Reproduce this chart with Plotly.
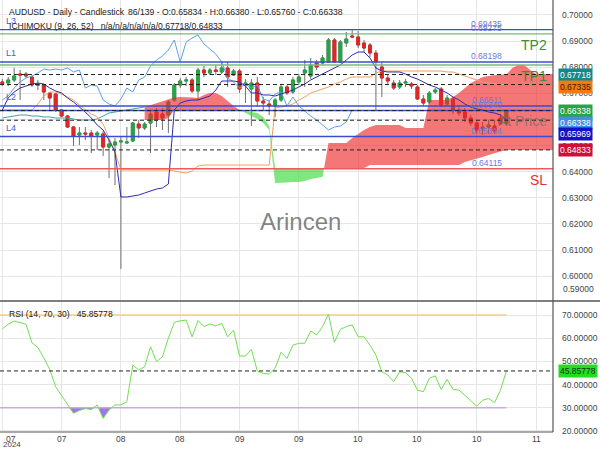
import numpy as np
import plotly.graph_objects as go

# ---------------- data ----------------
bars = list(range(86))
x_tick_idx = [0, 10, 20, 30, 40, 50, 60, 70, 80, 90]
x_tick_txt = ["07", "07", "08", "08", "09", "09", "10", "10", "10", "11"]
year_label = "2024"

opens = [0.67432, 0.67394, 0.67509, 0.67738, 0.67738, 0.67623, 0.67355, 0.67317, 0.67011, 0.66973,
         0.66361, 0.66131, 0.65710, 0.65404, 0.65480, 0.65480, 0.65404, 0.65442, 0.64945, 0.65021,
         0.65136, 0.65098, 0.65174, 0.65825, 0.65672, 0.65863, 0.66284, 0.66207, 0.66169, 0.66743,
         0.67317, 0.67470, 0.67509, 0.67088, 0.67891, 0.67776, 0.67891, 0.67815, 0.67968, 0.67700,
         0.67853, 0.67317, 0.67164, 0.67394, 0.66705, 0.66590, 0.66514, 0.66743, 0.67241, 0.67049,
         0.67432, 0.67776, 0.67662, 0.68159, 0.68159, 0.68197, 0.69040, 0.68197, 0.68925, 0.69193,
         0.69154, 0.68925, 0.68848, 0.68542, 0.68006, 0.67585, 0.67394, 0.67241, 0.67394, 0.67355,
         0.67241, 0.66781, 0.66667, 0.67049, 0.67164, 0.66590, 0.66781, 0.66361, 0.66284, 0.66054,
         0.65863, 0.65633, 0.65710, 0.65748, 0.66054, 0.65834]
highs = [0.67547, 0.67623, 0.67968, 0.67891, 0.67815, 0.67662, 0.67509, 0.67355, 0.67049, 0.67011,
         0.66399, 0.66169, 0.65748, 0.65710, 0.65710, 0.65595, 0.65557, 0.65557, 0.65212, 0.65289,
         0.65327, 0.65710, 0.65901, 0.65978, 0.65901, 0.66322, 0.66437, 0.66437, 0.66743, 0.67394,
         0.67585, 0.67623, 0.67585, 0.67968, 0.68044, 0.67968, 0.68083, 0.68197, 0.68197, 0.67930,
         0.67930, 0.67547, 0.67547, 0.67623, 0.66858, 0.66743, 0.66820, 0.67317, 0.67317, 0.67623,
         0.67738, 0.68274, 0.68351, 0.68274, 0.68465, 0.69116, 0.69116, 0.69040, 0.69346, 0.69430,
         0.69384, 0.69040, 0.68925, 0.68657, 0.68197, 0.67700, 0.67509, 0.67509, 0.67547, 0.67432,
         0.67317, 0.66935, 0.67088, 0.67202, 0.67241, 0.66935, 0.66858, 0.66552, 0.66437, 0.66169,
         0.65978, 0.65901, 0.65978, 0.65978, 0.66207, 0.66380]
lows = [0.67279, 0.67279, 0.67432, 0.66743, 0.67585, 0.67241, 0.67126, 0.66743, 0.66361, 0.66284,
        0.66093, 0.65672, 0.64983, 0.65021, 0.65212, 0.64715, 0.64830, 0.64600, 0.63758, 0.63490,
        0.60275, 0.65059, 0.65136, 0.65289, 0.65595, 0.64715, 0.65710, 0.65595, 0.65480, 0.66667,
        0.67202, 0.67279, 0.67011, 0.66743, 0.67623, 0.67700, 0.67700, 0.67738, 0.67241, 0.67662,
        0.67011, 0.66628, 0.65748, 0.66475, 0.66361, 0.66169, 0.66093, 0.66667, 0.66935, 0.66973,
        0.67317, 0.67241, 0.67547, 0.67891, 0.68083, 0.68159, 0.68159, 0.68159, 0.68772, 0.69116,
        0.68733, 0.68580, 0.68389, 0.66361, 0.66858, 0.67317, 0.67126, 0.67164, 0.67241, 0.67164,
        0.66743, 0.66514, 0.66590, 0.66973, 0.66475, 0.66514, 0.66207, 0.66131, 0.65901, 0.65748,
        0.65442, 0.65404, 0.65442, 0.65442, 0.65787, 0.65760]
closes = [0.67375, 0.67509, 0.67662, 0.67700, 0.67662, 0.67317, 0.67317, 0.67049, 0.66820, 0.66361,
          0.66131, 0.65710, 0.65366, 0.65480, 0.65442, 0.65366, 0.65480, 0.64945, 0.65059, 0.65136,
          0.65174, 0.65136, 0.65863, 0.65672, 0.65825, 0.66207, 0.65978, 0.66054, 0.66667, 0.67317,
          0.67470, 0.67509, 0.67088, 0.67891, 0.67776, 0.67891, 0.67834, 0.67968, 0.67623, 0.67853,
          0.67164, 0.67394, 0.67394, 0.66705, 0.66628, 0.66514, 0.66743, 0.67241, 0.67011, 0.67509,
          0.67623, 0.67891, 0.68083, 0.68006, 0.68351, 0.69040, 0.68197, 0.68963, 0.69078, 0.69154,
          0.68848, 0.68733, 0.68542, 0.68197, 0.67585, 0.67470, 0.67202, 0.67394, 0.67432, 0.67279,
          0.66781, 0.66628, 0.67011, 0.67126, 0.66552, 0.66820, 0.66361, 0.66246, 0.66054, 0.65863,
          0.65595, 0.65710, 0.65787, 0.65557, 0.65834, 0.66338]

tenkan = [0.66361, 0.66820, 0.67049, 0.67202, 0.67279, 0.67355, 0.67394, 0.67355, 0.67202, 0.67088,
          0.67011, 0.66820, 0.66667, 0.66475, 0.66284, 0.66054, 0.65787, 0.65595, 0.65212, 0.64753,
          0.63031, 0.63031, 0.63069, 0.63107, 0.63184, 0.63260, 0.63337, 0.63375, 0.63528, 0.66361,
          0.66628, 0.66705, 0.66743, 0.66743, 0.66820, 0.66896, 0.67126, 0.67470, 0.67470, 0.67470,
          0.67432, 0.67279, 0.67011, 0.67011, 0.66935, 0.66935, 0.66896, 0.66973, 0.67049, 0.67126,
          0.67241, 0.67355, 0.67509, 0.67623, 0.67738, 0.67853, 0.67968, 0.68083, 0.68274, 0.68465,
          0.68580, 0.68580, 0.68351, 0.67968, 0.67853, 0.67815, 0.67815, 0.67815, 0.67738, 0.67623,
          0.67547, 0.67432, 0.67317, 0.67241, 0.67126, 0.67011, 0.66858, 0.66743, 0.66590, 0.66475,
          0.66399, 0.66361, 0.66284, 0.66246, 0.66169, 0.65969]
kijun = [0.66361, 0.66361, 0.66361, 0.66361, 0.66361, 0.66361, 0.66590, 0.66896, 0.67049, 0.67049,
         0.66973, 0.66858, 0.66743, 0.66552, 0.66361, 0.66207, 0.66093, 0.65825, 0.65289, 0.64753,
         0.64064, 0.64064, 0.64064, 0.64064, 0.64064, 0.64064, 0.64064, 0.64064, 0.64064, 0.64026,
         0.63988, 0.63949, 0.64026, 0.64217, 0.64255, 0.64255, 0.64255, 0.64255, 0.64255, 0.64255,
         0.64255, 0.64255, 0.64255, 0.64255, 0.64255, 0.64255, 0.66437, 0.66475, 0.66514, 0.66590,
         0.66743, 0.66858, 0.67011, 0.67088, 0.67164, 0.67241, 0.67355, 0.67432, 0.67547, 0.67623,
         0.67623, 0.67623, 0.67623, 0.67776, 0.67853, 0.67853, 0.67853, 0.67853, 0.67853, 0.67853,
         0.67853, 0.67853, 0.67853, 0.67853, 0.67853, 0.67815, 0.67815, 0.67738, 0.67662, 0.67585,
         0.67509, 0.67432, 0.67394, 0.67355, 0.67336, 0.67335]
chikou = [0.66743, 0.66896, 0.67202, 0.67432, 0.67585, 0.67662, 0.67776, 0.67930, 0.67891, 0.67930,
          0.67891, 0.67968, 0.67815, 0.67891, 0.67202, 0.67317, 0.67279, 0.66743, 0.66590, 0.66514,
          0.66781, 0.67202, 0.67049, 0.67509, 0.67623, 0.68044, 0.68274, 0.68427, 0.68657, 0.69040,
          0.68197, 0.68963, 0.69116, 0.69231, 0.68886, 0.68695, 0.68504, 0.68197, 0.67585, 0.67432,
          0.67202, 0.67355, 0.67202, 0.67317, 0.66781, 0.66705, 0.66973, 0.67049, 0.66514, 0.66858,
          0.66514, 0.66322, 0.66131, 0.65978, 0.65787, 0.65595, 0.65710, 0.65748, 0.65901, 0.66361]

cloud_idx_a = list(range(94))
senkou_a = [0.66054, 0.66093, 0.66131, 0.66169, 0.66169, 0.66131, 0.66131, 0.66093, 0.66093, 0.66054,
            0.66054, 0.66054, 0.66016, 0.65978, 0.65978, 0.65978, 0.66016, 0.66131, 0.66246, 0.66284,
            0.66322, 0.66361, 0.66399, 0.66437, 0.66475, 0.66552, 0.66628, 0.66705, 0.66781, 0.66839,
            0.66858, 0.66858, 0.66839, 0.66820, 0.66935, 0.67011, 0.67011, 0.66896, 0.66705, 0.66514,
            0.66361, 0.66246, 0.66131, 0.66016, 0.65863, 0.65595, 0.63567, 0.63567, 0.63586, 0.63605,
            0.63605, 0.63643, 0.63720, 0.63758, 0.63796, 0.65098, 0.65098, 0.65098, 0.65098, 0.65289,
            0.65442, 0.65595, 0.65710, 0.65787, 0.65787, 0.65787, 0.65787, 0.65787, 0.65672, 0.65672,
            0.65672, 0.65672, 0.66743, 0.66743, 0.66743, 0.66743, 0.66858, 0.67011, 0.67202, 0.67394,
            0.67509, 0.67623, 0.67662, 0.67700, 0.67718, 0.67718, 0.67968, 0.68083, 0.68083, 0.67891,
            0.67738, 0.67738, 0.67738, 0.67738]
cloud_idx_b = list(range(24, 94))
senkou_b = [0.65978, 0.65978, 0.65978, 0.65978, 0.66054,
            0.66361, 0.66361, 0.66361, 0.66361, 0.66361, 0.66361, 0.66361, 0.66361, 0.66361, 0.66361, 0.66361,
            0.66342, 0.66322, 0.66284, 0.66246, 0.66093, 0.65748,
            0.64141, 0.64141, 0.64141, 0.64141, 0.64141, 0.64141, 0.64141, 0.64141,
            0.64141, 0.64141, 0.64141, 0.64141, 0.64141, 0.64141, 0.64141, 0.64141,
            0.64255, 0.64255, 0.64255, 0.64255, 0.64255, 0.64255, 0.64255, 0.64255,
            0.64255, 0.64255, 0.64255, 0.64255, 0.64255, 0.64255, 0.64255, 0.64255,
            0.64370, 0.64447, 0.64504, 0.64562, 0.64638, 0.64715, 0.64772, 0.64833,
            0.64833, 0.64833, 0.64833, 0.64833, 0.64833, 0.64833, 0.64833, 0.64833]

rsi = [64, 66, 67.4, 66.6, 66, 58, 56, 51.5, 46.5, 39,
       35, 31, 27.6, 28.8, 29.6, 29.2, 31.2, 25.4, 29, 31.2,
       31.2, 32.6, 48.4, 46.3, 47.7, 56.3, 49.9, 52, 60, 66.8,
       67.5, 67.8, 60.6, 67.6, 65, 66.1, 65.3, 66.4, 60.6, 63.5,
       52.3, 52.3, 55.2, 45.8, 44.8, 44.5, 47, 53.9, 51.3, 57,
       57.8, 57.8, 63.1, 61.4, 65, 70.4, 58.2, 63.8, 65, 65.7,
       60.6, 60.6, 57, 52.7, 45.5, 44.1, 41.2, 45.5, 45.1, 42.7,
       37.6, 36.9, 42.7, 43.7, 37.9, 42.2, 37.9, 37.6, 35.5, 33,
       30.7, 33.2, 34, 32.2, 37.5, 45.85778]
rsi_hi, rsi_lo = 70, 30

blue_levels = [0.69435, 0.68198, 0.66511, 0.66340, 0.65344]
blue_level_names = ["L3", "L1", "L2", "", "L4"]
tp_levels = [0.69275, 0.68080]
tp_names = ["TP2", "TP1"]
sl_level = 0.64115
dash_levels = [0.67718, 0.67335, 0.66338, 0.65969, 0.64833]
value_boxes = [(0.67718, "#12898a", "white", 0),
               (0.67335, "#f07a14", "#3a2000", -2),
               (0.66338, "#27a444", "white", 0),
               (0.66338, "#3f90e6", "white", -12),
               (0.65969, "#1212c4", "white", -14),
               (0.64833, "#cc1038", "white", 0)]
last_price = 0.66338
rsi_last = 45.85778

# ---------------- figure ----------------
GREEN = "#27a345"
RED = "#de2727"
FONT = "Liberation Sans, Arial, sans-serif"
XR = [-0.39, 92.86]
MAIN_DOM = [0.3032, 1.0]
RSI_DOM = [0.0, 0.3032]

fig = go.Figure()

# candles (wicks gray) + bodies recoloured
fig.add_trace(go.Candlestick(
    x=bars, open=opens, high=highs, low=lows, close=closes,
    increasing=dict(line=dict(color="#707070", width=1), fillcolor=GREEN),
    decreasing=dict(line=dict(color="#707070", width=1), fillcolor=RED),
    xaxis="x", yaxis="y", showlegend=False, hoverinfo="skip"))
body_hi = np.maximum(opens, closes)
body_lo = np.minimum(opens, closes)
fig.add_trace(go.Candlestick(
    x=bars, open=opens, high=body_hi, low=body_lo, close=closes,
    increasing=dict(line=dict(color=GREEN, width=1), fillcolor=GREEN),
    decreasing=dict(line=dict(color=RED, width=1), fillcolor=RED),
    xaxis="x", yaxis="y", showlegend=False, hoverinfo="skip"))

# cloud polygons
a_map = dict(zip(cloud_idx_a, senkou_a))
xs = cloud_idx_b
av = [a_map[i] for i in xs]
bv = senkou_b


def cloud_segments(xs, a, b):
    segs = []
    cx, ca, cb = [xs[0]], [a[0]], [b[0]]
    red = a[0] >= b[0]
    for i in range(1, len(xs)):
        r = a[i] >= b[i]
        if r != red:
            d0 = a[i - 1] - b[i - 1]
            d1 = a[i] - b[i]
            t = d0 / (d0 - d1)
            xc = xs[i - 1] + t * (xs[i] - xs[i - 1])
            yc = a[i - 1] + t * (a[i] - a[i - 1])
            cx.append(xc); ca.append(yc); cb.append(yc)
            segs.append((cx, ca, cb, red))
            cx, ca, cb = [xc], [yc], [yc]
            red = r
        cx.append(xs[i]); ca.append(a[i]); cb.append(b[i])
    segs.append((cx, ca, cb, red))
    return segs


for cx, ca, cb, red in cloud_segments(xs, av, bv):
    fig.add_trace(go.Scatter(
        x=list(cx) + list(cx)[::-1], y=list(ca) + list(cb)[::-1],
        fill="toself", mode="lines", line=dict(width=0),
        fillcolor="rgba(238,40,40,0.64)" if red else "rgba(50,215,50,0.62)",
        xaxis="x", yaxis="y", showlegend=False, hoverinfo="skip"))

# ichimoku lines
fig.add_trace(go.Scatter(x=cloud_idx_a[:25], y=senkou_a[:25], mode="lines",
                         line=dict(color="#3aa5a0", width=1), xaxis="x", yaxis="y",
                         showlegend=False, hoverinfo="skip"))
fig.add_trace(go.Scatter(x=bars[:len(chikou)], y=chikou, mode="lines",
                         line=dict(color="#5aa2ec", width=1), xaxis="x", yaxis="y",
                         showlegend=False, hoverinfo="skip"))
fig.add_trace(go.Scatter(x=bars, y=kijun, mode="lines",
                         line=dict(color="#f2a05c", width=1), xaxis="x", yaxis="y",
                         showlegend=False, hoverinfo="skip"))
fig.add_trace(go.Scatter(x=bars, y=tenkan, mode="lines",
                         line=dict(color="#2c2cb4", width=1), xaxis="x", yaxis="y",
                         showlegend=False, hoverinfo="skip"))

# RSI
rsi_fill_x, rsi_fill_y = [], []
for i in range(len(rsi) - 1):
    x0, x1, r0, r1 = bars[i], bars[i + 1], rsi[i], rsi[i + 1]
    if r0 < rsi_lo or r1 < rsi_lo:
        pts = []
        if r0 < rsi_lo:
            pts.append((x0, r0))
        else:
            t = (r0 - rsi_lo) / (r0 - r1)
            pts.append((x0 + t * (x1 - x0), rsi_lo))
        if r1 < rsi_lo:
            pts.append((x1, r1))
        else:
            t = (r0 - rsi_lo) / (r0 - r1)
            pts.append((x0 + t * (x1 - x0), rsi_lo))
        px = [pts[0][0], pts[0][0], pts[1][0], pts[1][0], None]
        py = [rsi_lo, pts[0][1], pts[1][1], rsi_lo, None]
        rsi_fill_x += px
        rsi_fill_y += py
fig.add_trace(go.Scatter(x=rsi_fill_x, y=rsi_fill_y, fill="toself", mode="lines",
                         line=dict(width=0), fillcolor="rgba(140,95,225,0.85)",
                         xaxis="x2", yaxis="y2", showlegend=False, hoverinfo="skip"))
fig.add_trace(go.Scatter(x=[XR[0], bars[-1]], y=[rsi_hi, rsi_hi], mode="lines",
                         line=dict(color="#f6cc8c", width=1.5), xaxis="x2", yaxis="y2",
                         showlegend=False, hoverinfo="skip"))
fig.add_trace(go.Scatter(x=[XR[0], bars[-1]], y=[rsi_lo, rsi_lo], mode="lines",
                         line=dict(color="#c9a6f2", width=1.5), xaxis="x2", yaxis="y2",
                         showlegend=False, hoverinfo="skip"))
fig.add_trace(go.Scatter(x=bars, y=rsi, mode="lines", line=dict(color="#72dd52", width=1),
                         xaxis="x2", yaxis="y2", showlegend=False, hoverinfo="skip"))

shapes = []
annotations = []

# level lines
for v in blue_levels:
    shapes.append(dict(type="line", xref="paper", yref="y", x0=0, x1=1, y0=v, y1=v,
                       line=dict(color="#3c4cd0", width=1.4), layer="above"))
for v in tp_levels:
    shapes.append(dict(type="line", xref="paper", yref="y", x0=0, x1=1, y0=v, y1=v,
                       line=dict(color="#7bb87b", width=1.4), layer="above"))
shapes.append(dict(type="line", xref="paper", yref="y", x0=0, x1=1, y0=sl_level, y1=sl_level,
                   line=dict(color="#f05a5a", width=1.5), layer="above"))
for v in dash_levels:
    shapes.append(dict(type="line", xref="paper", yref="y", x0=0, x1=1, y0=v, y1=v,
                       line=dict(color="#222222", width=1, dash="4px,3px"), layer="above"))
shapes.append(dict(type="line", xref="paper", yref="y2", x0=0, x1=1, y0=rsi_last, y1=rsi_last,
                   line=dict(color="#222222", width=1, dash="4px,3px"), layer="above"))
# frame lines
shapes.append(dict(type="line", xref="paper", yref="paper", x0=0, x1=600 / 553, y0=RSI_DOM[1], y1=RSI_DOM[1],
                   line=dict(color="#555555", width=1.5), layer="above"))
shapes.append(dict(type="line", xref="paper", yref="paper", x0=1, x1=1, y0=0, y1=1,
                   line=dict(color="#555555", width=1.2), layer="above"))
shapes.append(dict(type="line", xref="paper", yref="paper", x0=0, x1=1, y0=0, y1=0,
                   line=dict(color="#555555", width=1.2), layer="above"))

# level value labels
for v in blue_levels + [tp_levels[0], sl_level]:
    annotations.append(dict(xref="paper", yref="y", x=504 / 553, y=v, yshift=6,
                            text=f"{v:.5f}", showarrow=False,
                            font=dict(family=FONT, size=8.5, color="#6a78e0")))
for v, name in zip(blue_levels, blue_level_names):
    if name:
        annotations.append(dict(xref="paper", yref="y", x=0, y=v, xshift=4, yshift=9,
                                xanchor="left", text=name, showarrow=False,
                                font=dict(family=FONT, size=9, color="#4a5ad8")))
for v, name in zip(tp_levels, tp_names):
    annotations.append(dict(xref="paper", yref="y", x=549 / 553, y=v, yshift=-11,
                            xanchor="right", text=name, showarrow=False,
                            font=dict(family=FONT, size=14, color="#3a8d3a")))
annotations.append(dict(xref="paper", yref="y", x=549 / 553, y=sl_level, yshift=-11,
                        xanchor="right", text="SL", showarrow=False,
                        font=dict(family=FONT, size=14, color="#e53030")))
annotations.append(dict(xref="paper", yref="y", x=549 / 553, y=last_price, yshift=-10,
                        xanchor="right", text="At Price", showarrow=False,
                        font=dict(family=FONT, size=14, color="rgba(110,110,110,0.75)")))
# right value boxes
for v, bg, fg, ys in value_boxes:
    annotations.append(dict(xref="paper", yref="y", x=1, y=v, xshift=5, yshift=ys,
                            xanchor="left", text=f"{v:.5f}", showarrow=False,
                            bgcolor=bg, borderpad=1,
                            font=dict(family=FONT, size=8.5, color=fg)))
annotations.append(dict(xref="paper", yref="y2", x=1, y=rsi_last, xshift=5,
                        xanchor="left", text=f"{rsi_last:.5f}", showarrow=False,
                        bgcolor="#22dd22", borderpad=1,
                        font=dict(family=FONT, size=8.5, color="#113311")))
annotations.append(dict(xref="paper", yref="paper", x=1, y=1 - 296 / 432, xshift=8,
                        xanchor="left", text="0.59000", showarrow=False,
                        font=dict(family=FONT, size=8.5, color="#444")))
# header texts
annotations.append(dict(xref="paper", yref="paper", x=0, y=1, xshift=7, yshift=-5,
                        xanchor="left", yanchor="top", text="AUDUSD - Daily - Candlestick",
                        showarrow=False, font=dict(family=FONT, size=8.6, color="#222")))
annotations.append(dict(xref="paper", yref="paper", x=126 / 553, y=1, yshift=-5,
                        xanchor="left", yanchor="top",
                        text="86/139 - O:0.65834 - H:0.66380 - L:0.65760 - C:0.66338",
                        showarrow=False, font=dict(family=FONT, size=8.6, color="#222")))
annotations.append(dict(xref="paper", yref="paper", x=0, y=1, xshift=7, yshift=-19,
                        xanchor="left", yanchor="top",
                        text="ICHIMOKU (9, 26, 52)   n/a/n/a/n/a/n/a/0.67718/0.64833",
                        showarrow=False, font=dict(family=FONT, size=8.6, color="#222")))
annotations.append(dict(xref="paper", yref="paper", x=0, y=RSI_DOM[1], xshift=7, yshift=-6,
                        xanchor="left", yanchor="top", text="RSI (14, 70, 30)   45.85778",
                        showarrow=False, font=dict(family=FONT, size=8.6, color="#222")))
# watermark
annotations.append(dict(xref="paper", yref="paper", x=300 / 553, y=1 - 222 / 432,
                        text="Arincen", showarrow=False,
                        font=dict(family=FONT, size=24, color="rgba(100,100,100,0.8)")))
# x labels
for i, (t, s) in enumerate(zip(x_tick_idx, x_tick_txt)):
    if i == 0:
        annotations.append(dict(xref="x2", yref="paper", x=t, y=0, yshift=0, xshift=2,
                                xanchor="left", yanchor="top", text=s, showarrow=False,
                                font=dict(family=FONT, size=8.5, color="#444")))
        annotations.append(dict(xref="x2", yref="paper", x=t, y=0, yshift=-7, xshift=0,
                                xanchor="left", yanchor="top", text=year_label, showarrow=False,
                                borderpad=0,
                                font=dict(family=FONT, size=8, color="#444")))
    else:
        annotations.append(dict(xref="x2", yref="paper", x=t, y=0, yshift=0,
                                xanchor="center", yanchor="top", text=s, showarrow=False,
                                font=dict(family=FONT, size=8.5, color="#444")))

grid = "#e6e6e6"
fig.update_layout(
    width=600, height=450,
    margin=dict(l=0, r=47, t=0, b=18),
    paper_bgcolor="white", plot_bgcolor="white",
    showlegend=False,
    xaxis=dict(domain=[0, 1], range=XR, anchor="y", tickvals=x_tick_idx,
               showticklabels=False, showgrid=True, gridcolor=grid, zeroline=False,
               rangeslider=dict(visible=False), ticks=""),
    xaxis2=dict(domain=[0, 1], range=XR, anchor="y2", matches="x", tickvals=x_tick_idx,
                showticklabels=False, showgrid=True, gridcolor=grid, zeroline=False, ticks=""),
    yaxis=dict(domain=MAIN_DOM, range=[0.59051, 0.70570], side="right", anchor="x",
               dtick=0.01, tick0=0, tickformat=".5f", showgrid=True, gridcolor=grid,
               zeroline=False, ticks="", ticklabelstandoff=8,
               tickfont=dict(family=FONT, size=8.5, color="#444")),
    yaxis2=dict(domain=RSI_DOM, range=[19.51, 76.04], side="right", anchor="x2",
                tickvals=[20, 30, 40, 50, 60, 70], tickformat=".5f", showgrid=True,
                gridcolor=grid, zeroline=False, ticks="", ticklabelstandoff=8,
                tickfont=dict(family=FONT, size=8.5, color="#444")),
    shapes=shapes, annotations=annotations,
)

fig.write_html("out.html")
